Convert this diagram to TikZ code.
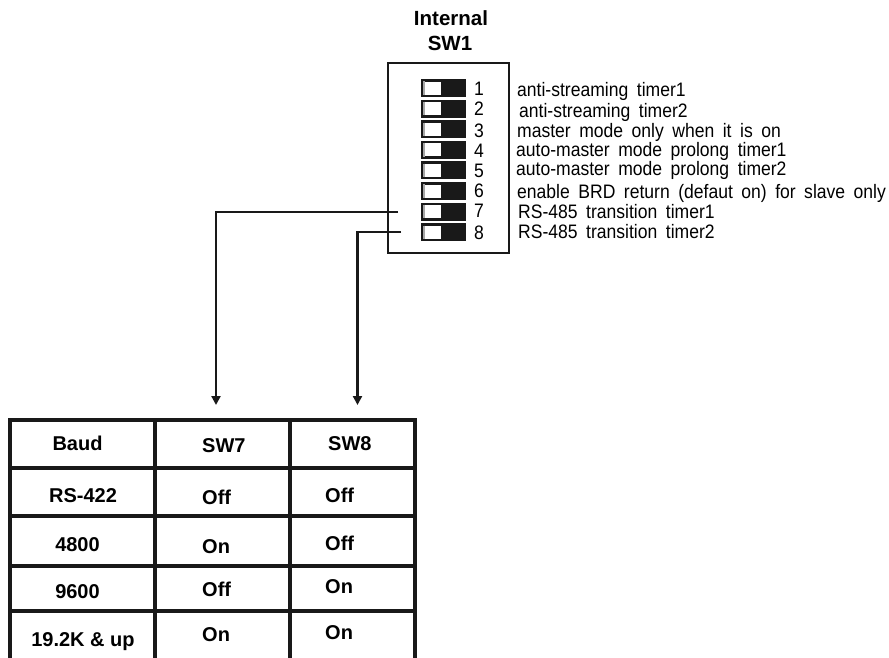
\documentclass[tikz,border=0pt]{standalone}
\usepackage{fontspec}
\setmainfont{Liberation Sans}
\newfontfamily\narrowfont[FakeStretch=0.9]{Liberation Sans}
\usetikzlibrary{arrows.meta}
\begin{document}
\begin{tikzpicture}[x=1pt,y=-1pt,
  desc/.style={anchor=base west, inner sep=0pt, font={\narrowfont\fontsize{19.5}{22}\selectfont\spaceskip=8.5pt\relax}},
  num/.style={anchor=base, inner sep=0pt, font={\narrowfont\fontsize{19.5}{22}\selectfont}},
  title/.style={inner sep=0pt, font={\fontsize{20.5}{24}\selectfont\bfseries}},
  cellc/.style={anchor=base, inner sep=0pt, font={\fontsize{20}{24}\selectfont\bfseries}},
  celll/.style={anchor=base west, inner sep=0pt, font={\fontsize{20}{24}\selectfont\bfseries}},
  swbody/.style={rectangle, fill=black!90, minimum width=45pt, minimum height=18pt, inner sep=0pt},
  knob/.style={rectangle, fill=white, minimum width=17pt, minimum height=13pt, inner sep=0pt, anchor=west},
  conn/.style={line width=2.2pt, draw=black!90},
  arr/.style={-{Triangle[width=9pt,length=9pt]}},
  grid/.style={line width=3.2pt, draw=black!90}
]
\useasboundingbox (0,0) rectangle (889,657);
\clip (0,0) rectangle (889,657);

% title
\node[title] (t1) at (451,18) {Internal};
\node[title] (t2) at (450,43) {SW1};

% switch box
\node[draw=black!90, line width=1.6pt, minimum width=121pt, minimum height=190pt, inner sep=0pt, anchor=north west] (box) at (387,62) {};

% switches and numbers
\foreach \k/\ny in {1/88,2/108,3/130,4/150,5/170,6/190,7/210,8/232}{
  \pgfmathsetmacro{\yy}{88+20.6*(\k-1)}
  \node[swbody] (s\k) at (443.5,\yy) {};
  \node[knob] (k\k) at ([xshift=3pt]s\k.west) {};
  \draw[gray!70, line width=1.5pt] (k\k.north west) -- (k\k.south west);
  \node[num] (n\k) at (479,\ny+7) {\k};
}

% descriptions
\node[desc] (d1) at (517,96) {anti-streaming timer1};
\node[desc] (d2) at (519,117) {anti-streaming timer2};
\node[desc] (d3) at (517,137) {master mode only when it is on};
\node[desc] (d4) at (516,156) {auto-master mode prolong timer1};
\node[desc] (d5) at (516,175) {auto-master mode prolong timer2};
\node[desc] (d6) at (517,198) {enable BRD return (defaut on) for slave only};
\node[desc] (d7) at (518,218) {RS-485 transition timer1};
\node[desc] (d8) at (518,238) {RS-485 transition timer2};

% connectors
\coordinate (c7) at (398,212);
\coordinate (c8) at (401,232);
\coordinate (a7) at (216,405);
\coordinate (a8) at (357.5,405);
\draw[conn, arr] (c7) -| (a7);
\draw[conn, arr] (c8) -| (a8);

% table grid
\draw[grid] (8.4,420) -- (416.6,420);
\foreach \yy in {468,516,566,611} \draw[grid] (10,\yy) -- (415,\yy);
\foreach \xx in {10,155,290,415} \draw[grid] (\xx,420) -- (\xx,670);

% table text
\node[cellc] (h1) at (77.5,450) {Baud};
\node[celll] (h2) at (202,452) {SW7};
\node[celll] (h3) at (328,450) {SW8};

\node[cellc] (r1a) at (83,502) {RS-422};
\node[celll] (r1b) at (202,504) {Off};
\node[celll] (r1c) at (325,502) {Off};

\node[cellc] (r2a) at (77.5,551) {4800};
\node[celll] (r2b) at (202,553) {On};
\node[celll] (r2c) at (325,550) {Off};

\node[cellc] (r3a) at (77.5,598) {9600};
\node[celll] (r3b) at (202,596) {Off};
\node[celll] (r3c) at (325,593) {On};

\node[cellc] (r4a) at (83,646) {19.2K \& up};
\node[celll] (r4b) at (202,641) {On};
\node[celll] (r4c) at (325,639) {On};
\end{tikzpicture}
\end{document}
